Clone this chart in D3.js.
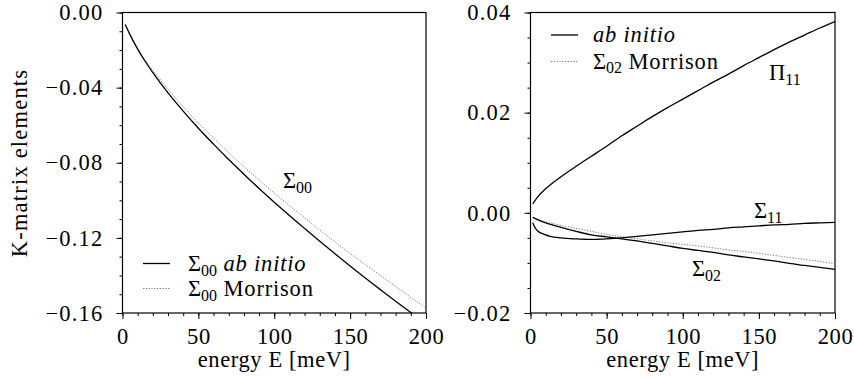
<!DOCTYPE html>
<html>
<head>
<meta charset="utf-8">
<script src="https://cdn.jsdelivr.net/npm/d3@7"></script>
<style>
  html, body { margin: 0; padding: 0; background: #fff; }
  svg { display: block; }
</style>
</head>
<body>
<svg id="chart" width="854" height="381"></svg>
<script>
// ---------- data ----------
const energyLeft = [1.8, 5, 10, 15, 20, 30, 40, 50, 60, 70, 80, 90, 100, 110, 120, 130, 140, 150, 160, 170, 180, 190, 191];
const sigma00AbInitio = [-0.0064, -0.0119, -0.0195, -0.0261, -0.0320, -0.0428, -0.0525, -0.0616, -0.0701, -0.0783, -0.0861, -0.0937, -0.1010, -0.1081, -0.1150, -0.1218, -0.1284, -0.1350, -0.1414, -0.1476, -0.1537, -0.1597, -0.1603];

const energyMorrison00 = [1.8, 5, 10, 15, 20, 30, 40, 50, 60, 70, 80, 90, 100, 110, 120, 130, 140, 150, 160, 170, 180, 190, 199];
const sigma00Morrison = [-0.0064, -0.0118, -0.0192, -0.0254, -0.0308, -0.0409, -0.0502, -0.0588, -0.0669, -0.0746, -0.0821, -0.0892, -0.0962, -0.1028, -0.1093, -0.1159, -0.1221, -0.1283, -0.1342, -0.1400, -0.1459, -0.1517, -0.1568];

const energyRight = [1.5, 5, 10, 20, 30, 40, 50, 60, 70, 80, 90, 100, 110, 120, 130, 140, 150, 160, 170, 180, 190, 200];
const pi11AbInitio = [0.0018, 0.0033, 0.0048, 0.0072, 0.0093, 0.0113, 0.0133, 0.0154, 0.0173, 0.0192, 0.0210, 0.0227, 0.0244, 0.0261, 0.0277, 0.0294, 0.0310, 0.0326, 0.0341, 0.0355, 0.0369, 0.0382];
const sigma02AbInitio = [-0.0009, -0.0014, -0.0020, -0.0029, -0.0037, -0.0044, -0.0048, -0.0052, -0.0056, -0.0061, -0.0066, -0.0071, -0.0075, -0.0079, -0.0084, -0.0088, -0.0092, -0.0096, -0.0101, -0.0105, -0.0109, -0.0113];
const sigma02Morrison = [-0.0009, -0.0013, -0.0018, -0.0025, -0.0031, -0.0037, -0.0043, -0.0048, -0.0052, -0.0056, -0.0060, -0.0063, -0.0066, -0.0070, -0.0074, -0.0077, -0.0081, -0.0085, -0.0089, -0.0093, -0.0097, -0.0102];

const energySigma11 = [1.5, 2.5, 4, 6, 9, 13, 20, 30, 40, 50, 60, 70, 80, 90, 100, 110, 120, 130, 140, 150, 160, 170, 180, 190, 200];
const sigma11AbInitio = [-0.0020, -0.0027, -0.0034, -0.0039, -0.0043, -0.0047, -0.0050, -0.0052, -0.0053, -0.0052, -0.0050, -0.0047, -0.0044, -0.0041, -0.0038, -0.0035, -0.0033, -0.0030, -0.0028, -0.0026, -0.0024, -0.0023, -0.0021, -0.0020, -0.0019];

const xTicks = [0, 50, 100, 150, 200];
const xMinorTicks = d3.range(0, 201, 10);
const yTicksLeft = [0.00, -0.04, -0.08, -0.12, -0.16];
const yMinorLeft = d3.range(0, 17).map(i => -i * 0.01);
const yTicksRight = [0.04, 0.02, 0.00, -0.02];
const yMinorRight = d3.range(0, 13).map(i => 0.04 - i * 0.005);

// ---------- layout ----------
const FONT = "'Liberation Serif', 'DejaVu Serif', 'Times New Roman', serif";
const svg = d3.select("#chart").attr("font-family", FONT);
const FS = 22.5;
const SUB = 16;
const panelTop = 12.5, panelBottom = 313;
const panels = [
  { x0: 122.5, x1: 426, domain: [-0.16, 0], ticks: yTicksLeft, minor: yMinorLeft, id: "L" },
  { x0: 530.5, x1: 835, domain: [-0.02, 0.04], ticks: yTicksRight, minor: yMinorRight, id: "R" }
];

const fmt = d3.format(".2f");

panels.forEach(p => {
  p.x = d3.scaleLinear().domain([0, 200]).range([p.x0, p.x1]);
  p.y = d3.scaleLinear().domain(p.domain).range([panelBottom, panelTop]);

  svg.append("clipPath").attr("id", "clip" + p.id)
    .append("rect").attr("x", p.x0).attr("y", panelTop)
    .attr("width", p.x1 - p.x0).attr("height", panelBottom - panelTop);

  svg.append("g").attr("transform", `translate(0,${panelBottom})`)
    .call(d3.axisBottom(p.x).tickValues(xMinorTicks).tickSize(3).tickFormat(""))
    .call(g => g.select(".domain").remove());
  svg.append("g").attr("transform", `translate(${p.x0},0)`)
    .call(d3.axisLeft(p.y).tickValues(p.minor).tickSize(3).tickFormat(""))
    .call(g => g.select(".domain").remove());

  const gx = svg.append("g").attr("transform", `translate(0,${panelBottom})`)
    .call(d3.axisBottom(p.x).tickValues(xTicks).tickSize(6).tickPadding(9).tickFormat(d3.format("d")));
  gx.attr("font-family", FONT).attr("font-size", FS);
  gx.selectAll("text").attr("letter-spacing", 0.6);
  gx.select(".domain").remove();

  const gy = svg.append("g").attr("transform", `translate(${p.x0},0)`)
    .call(d3.axisLeft(p.y).tickValues(p.ticks).tickSize(6).tickPadding(13).tickFormat(fmt));
  gy.attr("font-family", FONT).attr("font-size", FS);
  gy.selectAll("text").attr("letter-spacing", 1.2);
  gy.select(".domain").remove();

  svg.selectAll(".tick line").attr("stroke", "#000").attr("stroke-width", 1);

  svg.append("rect").attr("x", p.x0).attr("y", panelTop)
    .attr("width", p.x1 - p.x0).attr("height", panelBottom - panelTop)
    .attr("fill", "none").attr("stroke", "#000").attr("stroke-width", 1.2);

  svg.append("text").attr("x", (p.x0 + p.x1) / 2).attr("y", 367)
    .attr("text-anchor", "middle").attr("font-size", FS).attr("font-family", FONT)
    .attr("letter-spacing", 0.6).text("energy E [meV]");
});

svg.append("text").attr("transform", "translate(27,163) rotate(-90)")
  .attr("text-anchor", "middle").attr("font-size", FS).attr("font-family", FONT)
  .attr("letter-spacing", 1.2).text("K-matrix elements");

// ---------- curves ----------
function drawLine(p, xs, ys, dotted) {
  const line = d3.line().x((d, i) => p.x(xs[i])).y(d => p.y(d)).curve(d3.curveMonotoneX);
  svg.append("path").datum(ys)
    .attr("clip-path", `url(#clip${p.id})`)
    .attr("d", line)
    .attr("fill", "none")
    .attr("stroke", dotted ? "#777" : "#000")
    .attr("stroke-width", dotted ? 1 : 1.3)
    .attr("stroke-dasharray", dotted ? "1.2,1.6" : null);
}
const PL = panels[0], PR = panels[1];
drawLine(PL, energyMorrison00, sigma00Morrison, true);
drawLine(PL, energyLeft, sigma00AbInitio, false);
drawLine(PR, energyRight, sigma02Morrison, true);
drawLine(PR, energyRight, pi11AbInitio, false);
drawLine(PR, energySigma11, sigma11AbInitio, false);
drawLine(PR, energyRight, sigma02AbInitio, false);

// ---------- labels ----------
function symLabel(x, y, sym, sub, rest, italicRest) {
  const t = svg.append("text").attr("x", x).attr("y", y).attr("font-size", FS).attr("font-family", FONT);
  t.append("tspan").text(sym);
  t.append("tspan").attr("font-size", SUB).attr("dy", 4.5).text(sub);
  if (rest) {
    t.append("tspan").attr("dy", -4.5).attr("font-style", italicRest ? "italic" : "normal")
      .attr("letter-spacing", 0.8).text(rest);
  }
  return t;
}
symLabel(283, 188, "Σ", "00");
symLabel(769, 80, "Π", "11");
symLabel(754, 218, "Σ", "11");
symLabel(692, 276, "Σ", "02");

svg.append("line").attr("x1", 143).attr("x2", 170).attr("y1", 263.5).attr("y2", 263.5)
  .attr("stroke", "#000").attr("stroke-width", 1.3);
svg.append("line").attr("x1", 143).attr("x2", 170).attr("y1", 288.5).attr("y2", 288.5)
  .attr("stroke", "#777").attr("stroke-width", 1).attr("stroke-dasharray", "1.2,1.6");
symLabel(188, 271, "Σ", "00", " ab initio", true);
symLabel(188, 296, "Σ", "00", " Morrison", false);

svg.append("line").attr("x1", 551).attr("x2", 578).attr("y1", 35).attr("y2", 35)
  .attr("stroke", "#000").attr("stroke-width", 1.3);
svg.append("line").attr("x1", 551).attr("x2", 578).attr("y1", 61.5).attr("y2", 61.5)
  .attr("stroke", "#777").attr("stroke-width", 1).attr("stroke-dasharray", "1.2,1.6");
svg.append("text").attr("x", 593).attr("y", 42).attr("font-size", FS).attr("font-family", FONT)
  .attr("font-style", "italic").attr("letter-spacing", 0.8).text("ab initio");
symLabel(593, 68.5, "Σ", "02", " Morrison", false);
</script>
</body>
</html>
